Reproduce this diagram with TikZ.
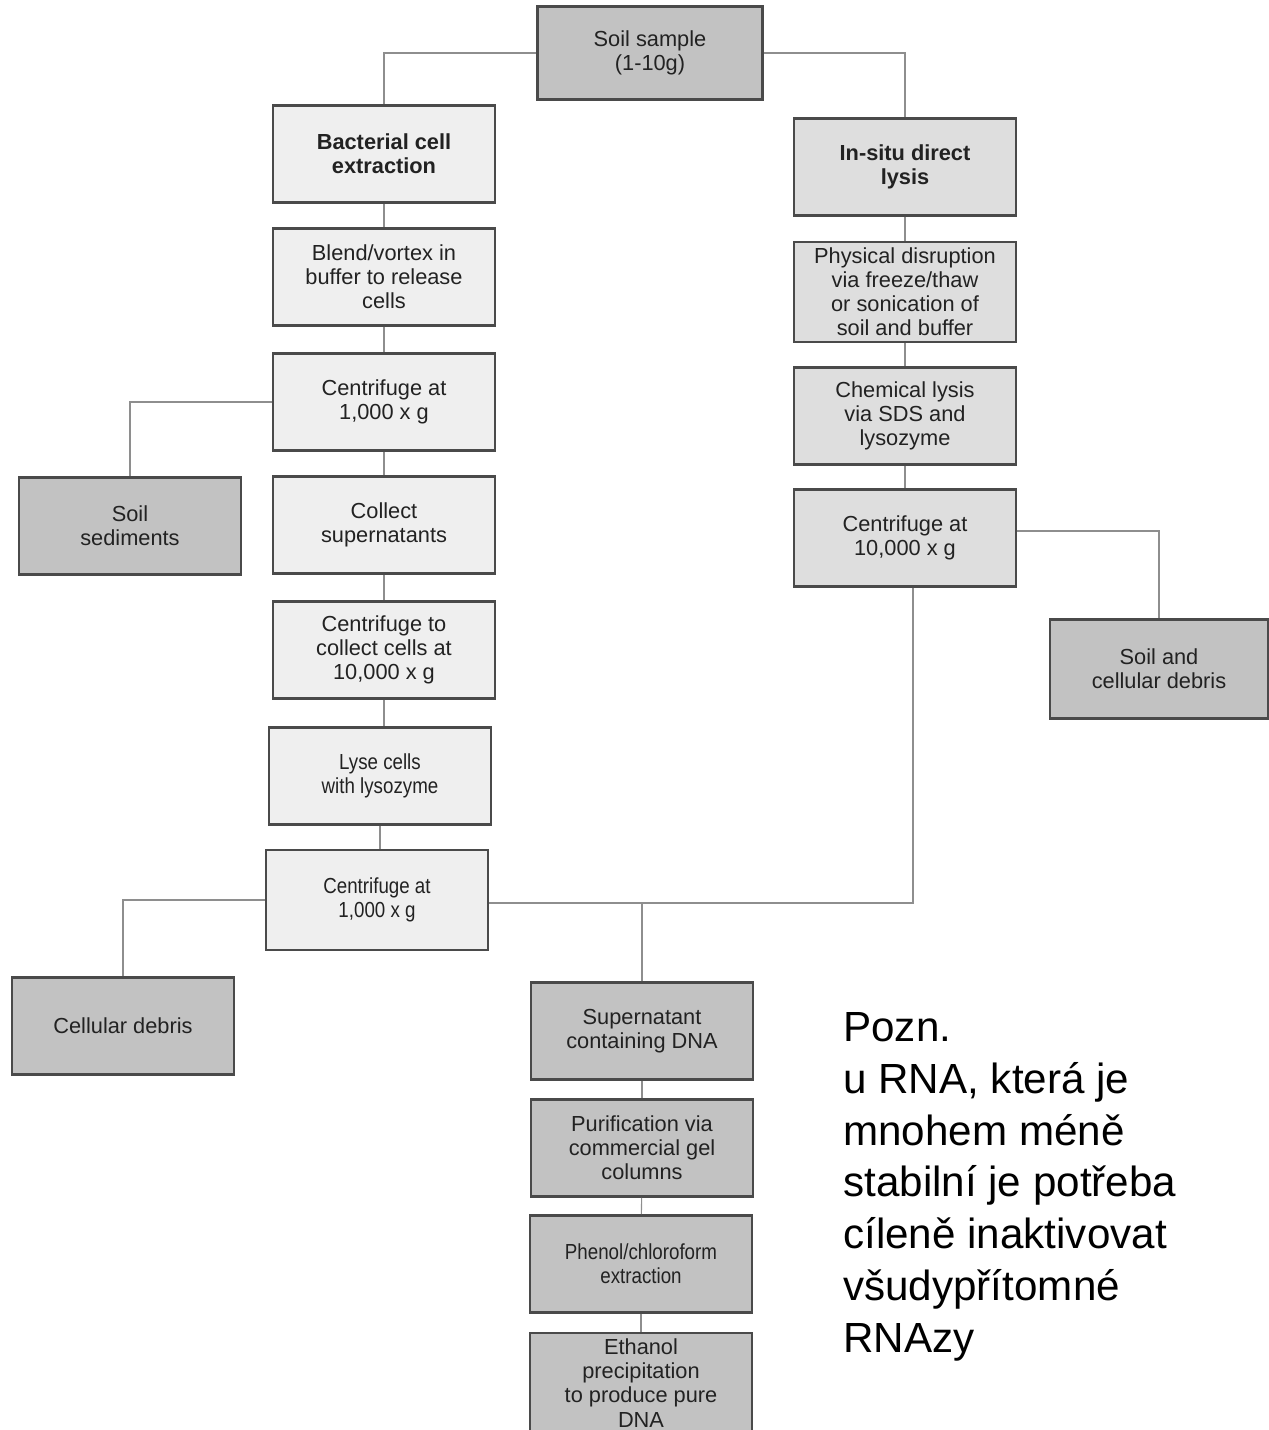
\documentclass[tikz,border=0pt]{standalone}
\usepackage{fontspec}
\setmainfont{Liberation Sans}
\newfontfamily\narrowsans{Liberation Sans}[FakeStretch=0.86]

\definecolor{boxline}{HTML}{4A4A4A}
\definecolor{linkgray}{HTML}{8E8E8E}
\definecolor{inkgray}{HTML}{222222}
\definecolor{palefill}{HTML}{EFEFEF}
\definecolor{midfill}{HTML}{DEDEDE}
\definecolor{darkfill}{HTML}{C2C2C2}

\tikzset{
  stagebox/.style = {shape=rectangle, draw=boxline, line width=1.6pt,
    align=center, text=inkgray, inner sep=2pt,
    minimum width=4.44cm, minimum height=1.94cm,
    font=\fontsize{12.4}{13.7}\selectfont},
  pale/.style = {stagebox, fill=palefill},
  mid/.style  = {stagebox, fill=midfill},
  dark/.style = {stagebox, fill=darkfill},
  link/.style = {draw=linkgray, line width=0.6pt}
}

\begin{document}
\begin{tikzpicture}[x=0.02cm, y=-0.02cm]
  \useasboundingbox (0,0) rectangle (1268,1430);

  % start
  \node[dark, minimum width=4.5cm, minimum height=1.86cm] (soil) at (650,53) {Soil sample\\(1-10g)};

  % left branch: cells extracted first
  \node[pale] (bact)    at (384,154) {\bfseries Bacterial cell\\\bfseries extraction};
  \node[pale] (blend)   at (384,277) {Blend/vortex in\\buffer to release\\cells};
  \node[pale] (cent1)   at (384,402) {Centrifuge at\\1,000 x g};
  \node[dark] (sedim)   at (130,526) {Soil\\sediments};
  \node[pale] (collect) at (384,525) {Collect\\supernatants};
  \node[pale] (cellcoll) at (384,650) {Centrifuge to\\collect cells at\\10,000 x g};
  \node[pale] (lyse)    at (380,776) {\narrowsans Lyse cells\\\narrowsans with lysozyme};
  \node[pale, minimum height=2cm] (cent2) at (377,900) {\narrowsans Centrifuge at\\\narrowsans 1,000 x g};
  \node[dark] (debris)  at (123,1026) {Cellular debris};

  % right branch: lysis in the soil
  \node[mid] (insitu) at (905,167) {\bfseries In-situ direct\\\bfseries lysis};
  \node[mid, minimum height=2cm] (phys) at (905,292) {Physical disruption\\via freeze/thaw\\or sonication of\\soil and buffer};
  \node[mid] (chem)   at (905,416) {Chemical lysis\\via SDS and\\lysozyme};
  \node[mid] (cent3)  at (905,538) {Centrifuge at\\10,000 x g};
  \node[dark, minimum width=4.36cm, minimum height=1.98cm] (soildeb) at (1159,669) {Soil and\\cellular debris};

  % common clean-up
  \node[dark] (supern)  at (642,1031) {Supernatant\\containing DNA};
  \node[dark] (purif)   at (642,1148) {Purification via\\commercial gel\\columns};
  \node[dark] (phenol)  at (641,1264) {\narrowsans Phenol/chloroform\\\narrowsans extraction};
  \node[dark, minimum height=2cm] (ethanol) at (641,1383) {Ethanol\\precipitation\\to produce pure\\DNA};

  % connectors
  \draw[link] (soil.west) -| (bact.north);
  \draw[link] (soil.east) -| (insitu.north);
  \draw[link] (bact) -- (blend);
  \draw[link] (blend) -- (cent1);
  \draw[link] (cent1) -- (collect);
  \draw[link] (cent1.west) -| (sedim.north);
  \draw[link] (collect) -- (cellcoll);
  \draw[link] (cellcoll.south) -- (cellcoll.south |- lyse.north);
  \draw[link] (lyse.south) -- (lyse.south |- cent2.north);
  \draw[link] (cent2.west) -| (debris.north);
  \draw[link] (insitu) -- (phys);
  \draw[link] (phys) -- (chem);
  \draw[link] (chem) -- (cent3);
  \draw[link] ([yshift=0.14cm]cent3.east) -| (soildeb.north);
  \coordinate (drop) at ([xshift=0.16cm]cent3.south);
  \coordinate (merge) at ([yshift=-0.06cm]cent2.east);
  \draw[link] (drop) |- (merge);
  \draw[link] (supern.north) -- (supern.north |- merge);
  \draw[link] (supern) -- (purif);
  \draw[link] (purif) -- (phenol);
  \draw[link] (phenol) -- (ethanol);

  % note on RNA
  \node[anchor=north west, inner sep=0pt, align=left, text=black,
    font=\fontsize{24}{29.5}\selectfont] (note) at (843,1012)
    {Pozn.\\u RNA, která je\\mnohem méně\\stabilní je potřeba\\cíleně inaktivovat\\všudypřítomné\\RNAzy};
\end{tikzpicture}
\end{document}
